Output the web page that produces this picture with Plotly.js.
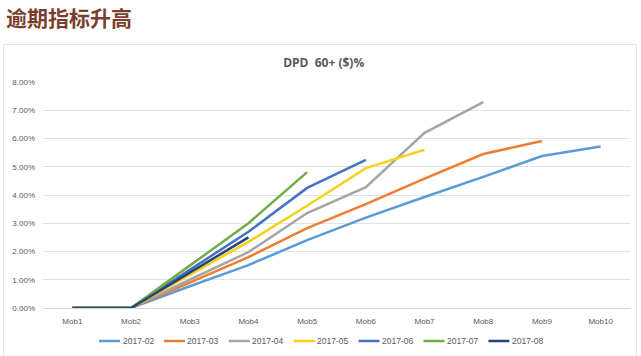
<!DOCTYPE html>
<html><head><meta charset="utf-8">
<script src="https://cdn.plot.ly/plotly-3.0.1.min.js"></script>
<style>
html,body{margin:0;padding:0;background:#fff;}
#wrap{position:relative;width:641px;height:356px;overflow:hidden;}
#hdr{position:absolute;left:6px;top:2px;font-family:"Noto Sans CJK SC",sans-serif;font-weight:bold;font-size:21px;color:#7a3e2c;}
#frame{position:absolute;left:3px;top:44px;width:634px;height:320px;border:1px solid #e4e4e4;box-sizing:border-box;}
#chart{position:absolute;left:0;top:0;width:641px;height:356px;}
</style></head>
<body><div id="wrap"><div id="frame"></div><div id="hdr">逾期指标升高</div><div id="chart"></div></div>
<script>
const categories = ["Mob1","Mob2","Mob3","Mob4","Mob5","Mob6","Mob7","Mob8","Mob9","Mob10"];
const seriesNames = ["2017-02","2017-03","2017-04","2017-05","2017-06","2017-07","2017-08"];
const s201702 = [0,0,0.0077,0.0152,0.0240,0.0320,0.0393,0.0464,0.0538,0.0572];
const s201703 = [0,0,0.0090,0.0180,0.0283,0.0368,0.0458,0.0545,0.0591];
const s201704 = [0,0,0.0100,0.0198,0.0336,0.0428,0.0620,0.0729];
const s201705 = [0,0,0.0117,0.0234,0.0362,0.0495,0.0560];
const s201706 = [0,0,0.0135,0.0270,0.0425,0.0524];
const s201707 = [0,0,0.0150,0.0300,0.0481];
const s201708 = [0,0,0.0125,0.0250];
const colors = ["#5B9BD5","#ED7D31","#A5A5A5","#F7D11A","#4472C4","#70AD47","#264478"];
const all = [s201702,s201703,s201704,s201705,s201706,s201707,s201708];
const traces = all.map((v,i)=>({
  type:'scatter',mode:'lines',name:seriesNames[i],
  x:categories.slice(0,v.length),y:v,
  line:{color:colors[i],width:2.5},hoverinfo:'skip'
}));
// custom legend (layout decoration) in pixel terms converted to paper coords
const M = {l:43,r:11,t:82,b:48};
const W = 641, H = 356;
const pw = W-M.l-M.r, ph = H-M.t-M.b;
const px = x => (x-M.l)/pw, py = y => (H-M.b-y)/ph;
const shapes = [], annotations = [];
seriesNames.forEach((n,i)=>{
  const x0 = 99 + i*64.9;
  shapes.push({type:'line',xref:'paper',yref:'paper',x0:px(x0),x1:px(x0+21),y0:py(341),y1:py(341),
    line:{color:colors[i],width:2.5}});
  annotations.push({xref:'paper',yref:'paper',x:px(x0+21.5),y:py(341),xanchor:'left',yanchor:'middle',
    text:n,showarrow:false,font:{family:'"Liberation Sans",sans-serif',size:8.5,color:'#595959'}});
});
const layout = {
  width:W,height:H,
  paper_bgcolor:'rgba(0,0,0,0)',plot_bgcolor:'rgba(0,0,0,0)',
  margin:Object.assign({autoexpand:false},M),
  title:{text:'<b>DPD  60+ ($)%</b>',x:0.505,xanchor:'center',y:0.825,yanchor:'middle',
    font:{family:'"Open Sans","Liberation Sans",sans-serif',size:12,color:'#595959'}},
  xaxis:{type:'category',categoryorder:'array',categoryarray:categories,range:[-0.5,9.5],
    showgrid:false,zeroline:false,showline:true,linecolor:'#d9d9d9',linewidth:1,
    ticks:'',ticklabelstandoff:5,tickfont:{family:'"Liberation Sans",sans-serif',size:8,color:'#595959'},
    fixedrange:true},
  yaxis:{range:[0,0.08],dtick:0.01,tickformat:'.2%',showgrid:true,gridcolor:'#e3e3e3',gridwidth:1,
    zeroline:false,showline:false,ticks:'',ticklen:0,ticklabelstandoff:7,
    tickfont:{family:'"Liberation Sans",sans-serif',size:8,color:'#595959'},fixedrange:true},
  showlegend:false,
  shapes:shapes,annotations:annotations
};
Plotly.newPlot('chart',traces,layout,{displayModeBar:false,staticPlot:true});
</script></body></html>
